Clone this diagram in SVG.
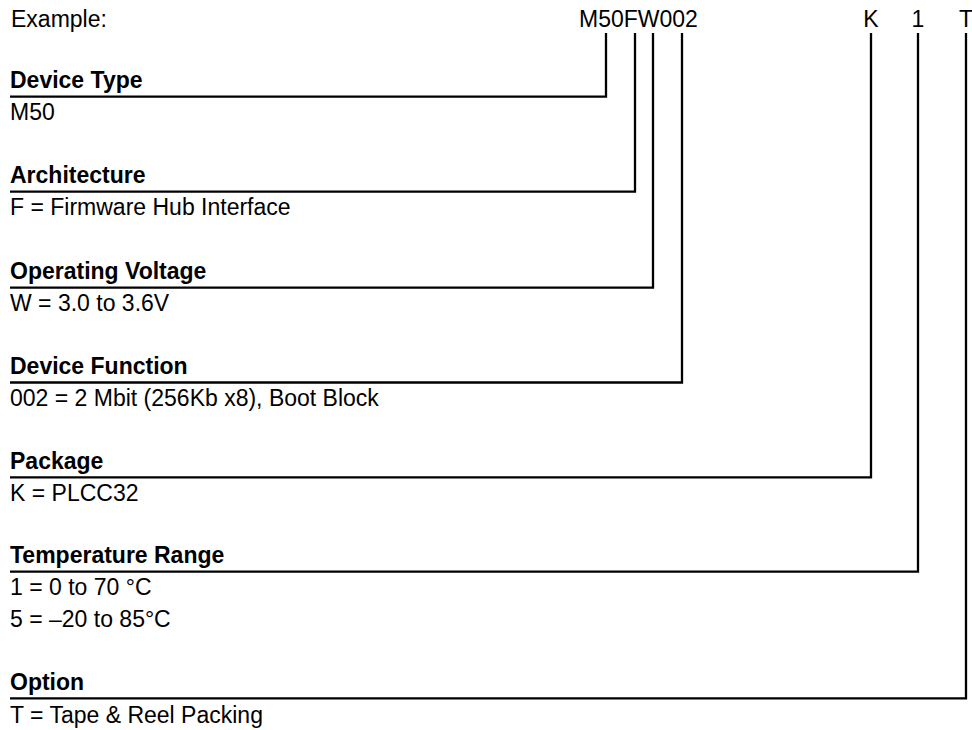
<svg xmlns="http://www.w3.org/2000/svg" width="972" height="730" viewBox="0 0 972 730">
<style>
text{font-family:"Liberation Sans",Arial,sans-serif;font-size:23px;fill:#000}
.h{font-weight:bold}
.c{fill:none;stroke:#000;stroke-width:2.3;stroke-linejoin:miter}
</style>
<rect width="972" height="730" fill="#fff"/>
<g id="example">
<text x="11" y="26.5">Example:</text>
<text x="579" y="26.5">M50FW002</text>
<text x="871" y="26.5" text-anchor="middle">K</text>
<text x="918" y="26.5" text-anchor="middle">1</text>
<text x="966" y="26.5" text-anchor="middle">T</text>
</g>
<g id="connectors">
<polyline class="c" points="606,33 606,96.7 10,96.7"/>
<polyline class="c" points="635,33 635,191.7 10,191.7"/>
<polyline class="c" points="653,33 653,287.7 10,287.7"/>
<polyline class="c" points="682,33 682,382.5 10,382.5"/>
<polyline class="c" points="871,33 871,477.3 10,477.3"/>
<polyline class="c" points="918,33 918,571.7 10,571.7"/>
<polyline class="c" points="966,33 966,698.3 10,698.3"/>
</g>
<g id="device-type">
<text class="h" x="10" y="88.3">Device Type</text>
<text x="10" y="120">M50</text>
</g>
<g id="architecture">
<text class="h" x="10" y="183.3">Architecture</text>
<text x="10" y="215">F = Firmware Hub Interface</text>
</g>
<g id="operating-voltage">
<text class="h" x="10" y="279.3">Operating Voltage</text>
<text x="10" y="311">W = 3.0 to 3.6V</text>
</g>
<g id="device-function">
<text class="h" x="10" y="374.1">Device Function</text>
<text x="10" y="406">002 = 2 Mbit (256Kb x8), Boot Block</text>
</g>
<g id="package">
<text class="h" x="10" y="468.9">Package</text>
<text x="10" y="501">K = PLCC32</text>
</g>
<g id="temperature-range">
<text class="h" x="10" y="563.3">Temperature Range</text>
<text x="10" y="595">1 = 0 to 70 °C</text>
<text x="10" y="626.7">5 = –20 to 85°C</text>
</g>
<g id="option">
<text class="h" x="10" y="690">Option</text>
<text x="10" y="722.5">T = Tape &amp; Reel Packing</text>
</g>
</svg>
